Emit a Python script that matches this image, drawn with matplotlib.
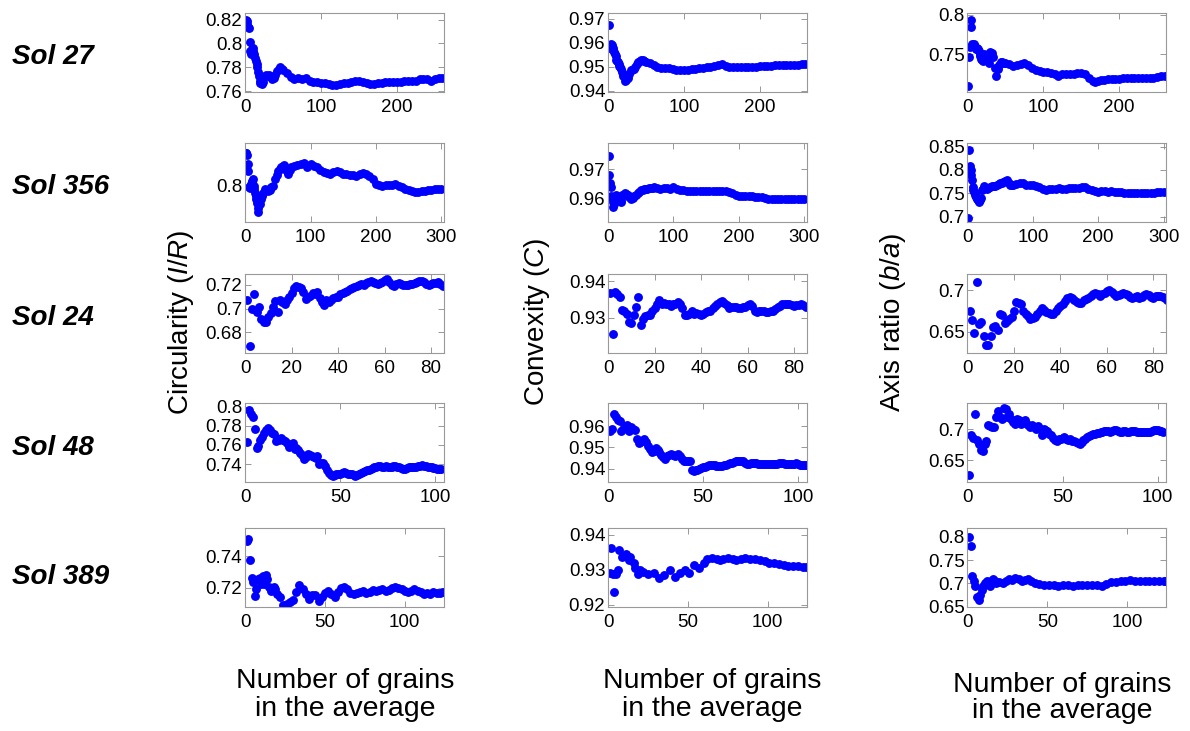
import matplotlib
matplotlib.use("Agg")
import matplotlib.pyplot as plt
from matplotlib.ticker import FormatStrFormatter

plt.rcParams['font.family'] = ['Liberation Sans', 'DejaVu Sans']
plt.rcParams['mathtext.fontset'] = 'custom'
plt.rcParams['mathtext.rm'] = 'Liberation Sans'
plt.rcParams['mathtext.it'] = 'Liberation Sans:italic'

# row / column names
sols = ['Sol 27', 'Sol 356', 'Sol 24', 'Sol 48', 'Sol 389']
ylabels = [r'Circularity ($\it{I/R}$)', r'Convexity ($\it{C}$)', r'Axis ratio ($\it{b/a}$)']

# ---- Sol 27 ----
s27_x = [1, 2, 3, 4, 5, 6, 7, 8, 9, 10, 11, 12, 13, 14, 15, 16, 17, 18, 19, 20, 22, 24, 26, 28, 30,
         32, 34, 36, 38, 40, 42, 44, 46, 48, 50, 55, 60, 65, 70, 75, 80, 85, 90, 95, 100, 105, 110,
         115, 120, 125, 130, 135, 140, 145, 150, 155, 160, 165, 170, 175, 180, 185, 190, 195, 200,
         205, 210, 215, 220, 225, 230, 235, 240, 245, 250, 255, 260]
s27_circ = [0.820, 0.819, 0.816, 0.814, 0.813, 0.801, 0.794, 0.791, 0.795, 0.796, 0.794, 0.791, 0.788,
            0.785, 0.783, 0.780, 0.776, 0.773, 0.769, 0.767, 0.766, 0.768, 0.773, 0.774, 0.773, 0.774,
            0.772, 0.770, 0.771, 0.774, 0.777, 0.779, 0.780, 0.779, 0.778, 0.775, 0.772, 0.770, 0.771,
            0.770, 0.771, 0.769, 0.768, 0.768, 0.767, 0.767, 0.766, 0.765, 0.765, 0.766, 0.767, 0.767,
            0.768, 0.769, 0.769, 0.768, 0.767, 0.766, 0.766, 0.767, 0.767, 0.768, 0.768, 0.768, 0.768,
            0.768, 0.769, 0.769, 0.769, 0.769, 0.770, 0.770, 0.770, 0.769, 0.770, 0.771, 0.771]
s27_conv = [0.9674, 0.958, 0.959, 0.9595, 0.959, 0.958, 0.957, 0.956, 0.9555, 0.9545, 0.953, 0.9525,
            0.952, 0.951, 0.9505, 0.950, 0.949, 0.948, 0.947, 0.946, 0.944, 0.9445, 0.9455, 0.947,
            0.9485, 0.9485, 0.949, 0.950, 0.951, 0.952, 0.9525, 0.953, 0.953, 0.9525, 0.952, 0.9515,
            0.9507, 0.950, 0.9496, 0.9495, 0.9494, 0.949, 0.9487, 0.9485, 0.9485, 0.9487, 0.949, 0.949,
            0.9493, 0.9495, 0.9497, 0.950, 0.9503, 0.9508, 0.951, 0.9505, 0.950, 0.950, 0.950, 0.950,
            0.950, 0.950, 0.950, 0.950, 0.9502, 0.9503, 0.9505, 0.9505, 0.9508, 0.9507, 0.9506, 0.9507,
            0.9508, 0.9506, 0.9508, 0.951, 0.951]
s27_ax_x = [1, 2, 3, 4, 5, 6, 7, 8, 9, 10, 11, 12, 13, 14, 15, 16, 17, 18, 19, 20, 22, 24, 26, 28, 30,
            32, 34, 36, 38, 40, 42, 44, 46, 48, 50, 55, 60, 65, 70, 75, 80, 85, 90, 95, 100, 105, 110,
            115, 120, 125, 130, 135, 140, 145, 150, 155, 160, 165, 168, 172, 176, 180, 185, 190, 195,
            200, 205, 210, 215, 220, 225, 230, 235, 240, 245, 250, 255, 260]
s27_axis = [0.7096, 0.7465, 0.7587, 0.785, 0.793, 0.763, 0.760, 0.763, 0.761, 0.7587, 0.757, 0.7565,
            0.758, 0.756, 0.754, 0.750, 0.747, 0.7435, 0.742, 0.741, 0.750, 0.749, 0.746, 0.739, 0.752,
            0.751, 0.746, 0.7326, 0.722, 0.7304, 0.736, 0.740, 0.740, 0.739, 0.7387, 0.737, 0.7348,
            0.736, 0.737, 0.739, 0.736, 0.7326, 0.730, 0.729, 0.7274, 0.727, 0.726, 0.725, 0.7217,
            0.724, 0.7248, 0.725, 0.725, 0.726, 0.726, 0.724, 0.7196, 0.716, 0.714, 0.716, 0.717,
            0.7174, 0.718, 0.718, 0.718, 0.7187, 0.719, 0.719, 0.7195, 0.7196, 0.719, 0.7195, 0.720,
            0.7196, 0.720, 0.721, 0.722, 0.7222]

# ---- Sol 356 ----
s356_x = [1, 2, 3, 4, 5, 6, 7, 8, 9, 10, 11, 12, 13, 14, 15, 16, 17, 18, 19, 20, 22, 24, 26, 28, 30,
          32, 35, 38, 40, 42, 45, 48, 50, 53, 55, 58, 60, 63, 65, 68, 70, 75, 80, 85, 90, 95, 100,
          105, 110, 115, 120, 125, 130, 135, 140, 145, 150, 155, 160, 165, 170, 175, 180, 185, 190,
          195, 200, 205, 210, 215, 220, 225, 230, 235, 240, 245, 250, 255, 260, 265, 270, 275, 280,
          285, 290, 295, 300]
s356_circ = [0.8144, 0.8147, 0.8136, 0.8098, 0.8068, 0.7993, 0.799, 0.800, 0.801, 0.8016, 0.802, 0.8031,
             0.800, 0.7985, 0.797, 0.7955, 0.794, 0.7925, 0.790, 0.7884, 0.7918, 0.794, 0.7955, 0.797,
             0.7985, 0.798, 0.7978, 0.798, 0.7993, 0.800, 0.8031, 0.805, 0.8068, 0.8075, 0.8083,
             0.8088, 0.8091, 0.807, 0.8053, 0.807, 0.8083, 0.8088, 0.8091, 0.8095, 0.8101, 0.8085,
             0.8095, 0.809, 0.8086, 0.807, 0.8061, 0.8057, 0.8053, 0.806, 0.8068, 0.806, 0.8053,
             0.8052, 0.805, 0.8048, 0.8046, 0.8055, 0.8057, 0.8055, 0.8046, 0.803, 0.8008, 0.8002,
             0.800, 0.8002, 0.8003, 0.8005, 0.8008, 0.800, 0.7993, 0.7987, 0.7981, 0.7977, 0.7973,
             0.7975, 0.7977, 0.7978, 0.7981, 0.7983, 0.7985, 0.7985, 0.7985]
s356_conv = [0.9747, 0.9679, 0.9653, 0.9638, 0.9607, 0.960, 0.9586, 0.9569, 0.958, 0.9598, 0.9605, 0.961,
             0.960, 0.9595, 0.9592, 0.9595, 0.960, 0.9598, 0.959, 0.9586, 0.961, 0.9612, 0.9616,
             0.9613, 0.9612, 0.9605, 0.9598, 0.960, 0.9607, 0.961, 0.9616, 0.962, 0.9627, 0.9628,
             0.963, 0.9632, 0.9633, 0.9634, 0.9635, 0.9636, 0.9637, 0.9635, 0.9633, 0.9636, 0.9635,
             0.9633, 0.9637, 0.963, 0.9627, 0.9627, 0.9626, 0.9625, 0.9625, 0.9625, 0.9624, 0.9624,
             0.9625, 0.9624, 0.9624, 0.9624, 0.9625, 0.9625, 0.9625, 0.962, 0.9616, 0.961, 0.9607,
             0.9607, 0.9606, 0.9606, 0.9607, 0.9605, 0.9603, 0.9602, 0.960, 0.9597, 0.9595, 0.9595,
             0.9595, 0.9595, 0.9595, 0.9596, 0.9596, 0.9597, 0.9597, 0.9597, 0.9596]
s356_axis = [0.6964, 0.793, 0.843, 0.8086, 0.800, 0.789, 0.7786, 0.7643, 0.758, 0.7536, 0.750, 0.7464,
             0.743, 0.7407, 0.738, 0.7357, 0.734, 0.732, 0.736, 0.739, 0.757, 0.760, 0.766, 0.761,
             0.759, 0.762, 0.763, 0.765, 0.766, 0.765, 0.768, 0.770, 0.771, 0.773, 0.775, 0.777,
             0.7786, 0.772, 0.768, 0.767, 0.767, 0.770, 0.7727, 0.771, 0.768, 0.767, 0.768, 0.766,
             0.7643, 0.760, 0.757, 0.759, 0.760, 0.760, 0.761, 0.760, 0.760, 0.761, 0.761, 0.762,
             0.762, 0.763, 0.763, 0.760, 0.757, 0.755, 0.7536, 0.754, 0.754, 0.7535, 0.754, 0.753,
             0.752, 0.752, 0.7514, 0.751, 0.7505, 0.750, 0.750, 0.750, 0.750, 0.750, 0.750, 0.751,
             0.752, 0.753, 0.7536]

# ---- Sol 24 (one point per grain) ----
s24_x = list(range(1, 86))
s24_circ = [0.7074, 0.6683, 0.6996, 0.7122, 0.6968, 0.7018, 0.6912, 0.6884, 0.6892, 0.6934, 0.6962,
            0.7018, 0.7066, 0.6976, 0.7069, 0.7060, 0.7038, 0.7074, 0.7102, 0.7130, 0.7172, 0.7192,
            0.7180, 0.7172, 0.7144, 0.7080, 0.7102, 0.7108, 0.7130, 0.7122, 0.7136, 0.7088, 0.7060,
            0.7032, 0.7074, 0.7060, 0.7074, 0.7088, 0.7097, 0.7102, 0.7122, 0.7130, 0.7144, 0.7150,
            0.7164, 0.7172, 0.7178, 0.7192, 0.7200, 0.7206, 0.7200, 0.7214, 0.7228, 0.7234, 0.7228,
            0.7214, 0.7206, 0.7214, 0.7228, 0.7242, 0.7248, 0.7228, 0.7200, 0.7192, 0.7208, 0.7214,
            0.7206, 0.7200, 0.7200, 0.7200, 0.7206, 0.7208, 0.7214, 0.7222, 0.7234, 0.7236, 0.7220,
            0.7208, 0.7200, 0.7206, 0.7214, 0.7214, 0.7220, 0.7208, 0.7192]
s24_conv = [0.9367, 0.9256, 0.9372, 0.9365, 0.9357, 0.9321, 0.9319, 0.9311, 0.9288, 0.9286, 0.9307,
            0.9330, 0.9356, 0.9281, 0.9298, 0.9305, 0.9309, 0.9307, 0.9319, 0.9328, 0.9337, 0.9348,
            0.9337, 0.9341, 0.9339, 0.9339, 0.9332, 0.9337, 0.9339, 0.9344, 0.9337, 0.9328, 0.9309,
            0.9307, 0.9311, 0.9319, 0.9311, 0.9314, 0.9311, 0.9309, 0.9311, 0.9317, 0.9319, 0.9320,
            0.9328, 0.9332, 0.9339, 0.9344, 0.9346, 0.9342, 0.9335, 0.9328, 0.9330, 0.9331, 0.9330,
            0.9328, 0.9328, 0.9330, 0.9331, 0.9335, 0.9339, 0.9332, 0.9320, 0.9317, 0.9319, 0.9320,
            0.9319, 0.9317, 0.9316, 0.9319, 0.9320, 0.9325, 0.9330, 0.9332, 0.9337, 0.9339, 0.9339,
            0.9337, 0.9334, 0.9332, 0.9335, 0.9335, 0.9337, 0.9335, 0.9330]
s24_ax_x = list(range(1, 87))
s24_axis = [0.6750, 0.6649, 0.6488, 0.7105, 0.6597, 0.6621, 0.6448, 0.6347, 0.6347, 0.6448, 0.6556,
            0.6569, 0.6528, 0.6718, 0.6698, 0.6609, 0.6629, 0.6661, 0.6677, 0.6750, 0.6863, 0.6851,
            0.6831, 0.6750, 0.6718, 0.6690, 0.6657, 0.6669, 0.6677, 0.6710, 0.6750, 0.6790, 0.6758,
            0.6742, 0.6722, 0.6710, 0.6718, 0.6750, 0.6782, 0.6810, 0.6839, 0.6871, 0.6903, 0.6919,
            0.6903, 0.6879, 0.6863, 0.6851, 0.6851, 0.6879, 0.6891, 0.6903, 0.6931, 0.6952, 0.6972,
            0.6960, 0.6931, 0.6952, 0.6972, 0.6992, 0.7000, 0.6984, 0.6960, 0.6931, 0.6944, 0.6960,
            0.6968, 0.6960, 0.6940, 0.6919, 0.6911, 0.6919, 0.6927, 0.6911, 0.6919, 0.6944, 0.6952,
            0.6944, 0.6919, 0.6911, 0.6927, 0.6935, 0.6927, 0.6919, 0.6903, 0.6879]

# ---- Sol 48 ----
s48_x = list(range(1, 104))
s48_circ = [0.7629, 0.7966, 0.7922, 0.7896, 0.7771, 0.7569, 0.7585, 0.7653, 0.7687, 0.7720, 0.7754,
            0.7778, 0.7754, 0.7720, 0.7710, 0.7636, 0.7660, 0.7653, 0.7670, 0.7653, 0.7636, 0.7619,
            0.7575, 0.7602, 0.7619, 0.7558, 0.7569, 0.7545, 0.7518, 0.7494, 0.7451, 0.7474, 0.7501,
            0.7494, 0.7484, 0.7474, 0.7467, 0.7484, 0.7400, 0.7407, 0.7407, 0.7383, 0.7333, 0.7306,
            0.7282, 0.7272, 0.7289, 0.7292, 0.7299, 0.7299, 0.7306, 0.7316, 0.7306, 0.7292, 0.7299,
            0.7292, 0.7282, 0.7272, 0.7282, 0.7292, 0.7306, 0.7316, 0.7326, 0.7333, 0.7339, 0.7350,
            0.7360, 0.7366, 0.7366, 0.7383, 0.7383, 0.7373, 0.7373, 0.7383, 0.7373, 0.7366, 0.7373,
            0.7383, 0.7383, 0.7373, 0.7366, 0.7360, 0.7350, 0.7350, 0.7360, 0.7366, 0.7373, 0.7373,
            0.7366, 0.7373, 0.7376, 0.7383, 0.7390, 0.7383, 0.7376, 0.7373, 0.7366, 0.7366, 0.7360,
            0.7356, 0.7350, 0.7350, 0.7350]
s48_cv_x = list(range(1, 105))
s48_conv = [0.9577, 0.9588, 0.9658, 0.9646, 0.9631, 0.9623, 0.9577, 0.9585, 0.9600, 0.9608, 0.9577,
            0.9595, 0.9588, 0.9582, 0.9538, 0.9523, 0.9526, 0.9531, 0.9538, 0.9526, 0.9508, 0.9492,
            0.9477, 0.9485, 0.9495, 0.9489, 0.9477, 0.9465, 0.9454, 0.9446, 0.9458, 0.9462, 0.9469,
            0.9465, 0.9458, 0.9462, 0.9469, 0.9458, 0.9446, 0.9438, 0.9434, 0.9438, 0.9434, 0.9392,
            0.9388, 0.9392, 0.9392, 0.9400, 0.9403, 0.9408, 0.9408, 0.9412, 0.9415, 0.9415, 0.9418,
            0.9415, 0.9412, 0.9411, 0.9411, 0.9412, 0.9415, 0.9418, 0.9423, 0.9426, 0.9428, 0.9431,
            0.9434, 0.9435, 0.9438, 0.9438, 0.9434, 0.9428, 0.9423, 0.9423, 0.9426, 0.9428, 0.9428,
            0.9426, 0.9423, 0.9422, 0.9420, 0.9420, 0.9420, 0.9420, 0.9422, 0.9422, 0.9423, 0.9423,
            0.9423, 0.9425, 0.9425, 0.9425, 0.9423, 0.9423, 0.9423, 0.9423, 0.9423, 0.9423, 0.9425,
            0.9422, 0.9418, 0.9418, 0.9418, 0.9415]
s48_axis = [0.6258, 0.6903, 0.6860, 0.7242, 0.6823, 0.6769, 0.6661, 0.6651, 0.6769, 0.6806, 0.7065,
            0.7054, 0.7038, 0.7038, 0.7199, 0.7290, 0.7199, 0.7172, 0.7344, 0.7323, 0.7199, 0.7253,
            0.7172, 0.7118, 0.7091, 0.7172, 0.7145, 0.7091, 0.7118, 0.7156, 0.7108, 0.7065, 0.7038,
            0.7075, 0.7038, 0.7011, 0.7054, 0.7000, 0.6914, 0.7011, 0.6984, 0.6968, 0.6930, 0.6903,
            0.6860, 0.6823, 0.6806, 0.6849, 0.6839, 0.6860, 0.6876, 0.6849, 0.6823, 0.6839, 0.6806,
            0.6806, 0.6796, 0.6785, 0.6769, 0.6796, 0.6823, 0.6849, 0.6876, 0.6892, 0.6914, 0.6930,
            0.6930, 0.6941, 0.6946, 0.6957, 0.6957, 0.6968, 0.6978, 0.6968, 0.6957, 0.6978, 0.6984,
            0.6989, 0.6973, 0.6957, 0.6957, 0.6968, 0.6968, 0.6957, 0.6957, 0.6968, 0.6968, 0.6973,
            0.6957, 0.6957, 0.6957, 0.6957, 0.6957, 0.6957, 0.6957, 0.6957, 0.6968, 0.6984, 0.6989,
            0.6984, 0.6973, 0.6968, 0.6957]

# ---- Sol 389 ----
s389_x = [1, 2, 3, 4, 5, 6, 7, 8, 9, 10, 11, 12, 13, 14, 15, 16, 17, 18, 19, 20, 22, 24, 26, 28, 30,
          32, 34, 36, 38, 40, 42, 44, 46, 48, 50, 52, 54, 56, 58, 60, 62, 64, 66, 68, 70, 72, 74, 76,
          78, 80, 82, 84, 86, 88, 90, 92, 94, 96, 98, 100, 102, 104, 106, 108, 110, 112, 114, 116,
          118, 120, 122, 124]
s389_circ = [0.7494, 0.7506, 0.7375, 0.7262, 0.7238, 0.715, 0.7194, 0.7256, 0.7262, 0.7225, 0.7275,
             0.7225, 0.7281, 0.7256, 0.7206, 0.7181, 0.7194, 0.7206, 0.7194, 0.7162, 0.7144, 0.7094,
             0.710, 0.7112, 0.7125, 0.7175, 0.7219, 0.7194, 0.7162, 0.7131, 0.7156, 0.7156, 0.7119,
             0.7144, 0.7169, 0.7181, 0.7162, 0.7144, 0.7175, 0.720, 0.7206, 0.7194, 0.7169, 0.7162,
             0.7169, 0.7175, 0.7181, 0.7169, 0.7175, 0.7188, 0.7181, 0.7188, 0.7194, 0.7181, 0.7188,
             0.720, 0.7206, 0.720, 0.7194, 0.7181, 0.7175, 0.7181, 0.7194, 0.7181, 0.7175, 0.7162,
             0.7169, 0.7162, 0.7175, 0.7169, 0.7169, 0.7175]
s389_cv_x = [1, 2, 3, 4, 5, 6, 7, 9, 11, 12, 13, 14, 16, 17, 19, 20, 22, 25, 29, 32, 35, 39, 42, 45,
             48, 51, 54, 57, 60, 62, 65, 68, 70, 72, 75, 78, 80, 83, 86, 89, 92, 95, 98, 101, 104,
             107, 110, 113, 116, 119, 122, 124]
s389_conv = [0.9290, 0.9363, 0.9287, 0.9237, 0.9287, 0.9300, 0.9358, 0.9338, 0.9346, 0.9340, 0.9327,
             0.9338, 0.9321, 0.9304, 0.9287, 0.9301, 0.9295, 0.9287, 0.9290, 0.9276, 0.9285, 0.9301,
             0.9279, 0.9290, 0.9301, 0.9290, 0.9313, 0.9304, 0.9321, 0.9330, 0.9335, 0.9332, 0.9327,
             0.9330, 0.9335, 0.9330, 0.9327, 0.9330, 0.9335, 0.9330, 0.9332, 0.9327, 0.9325, 0.9321,
             0.9320, 0.9318, 0.9315, 0.9312, 0.9312, 0.9310, 0.9308, 0.9307]
s389_ax_x = [1, 2, 3, 4, 5, 6, 7, 8, 9, 10, 11, 12, 13, 14, 15, 16, 17, 18, 20, 22, 24, 26, 28, 30,
             32, 34, 36, 38, 40, 42, 45, 48, 51, 54, 57, 60, 63, 66, 69, 72, 75, 78, 81, 84, 87, 90,
             93, 96, 99, 102, 105, 108, 111, 114, 117, 120, 123, 124]
s389_axis = [0.80, 0.78, 0.715, 0.705, 0.695, 0.67, 0.665, 0.675, 0.685, 0.695, 0.70, 0.705, 0.70,
             0.695, 0.705, 0.71, 0.705, 0.70, 0.703, 0.70, 0.705, 0.71, 0.708, 0.712, 0.71, 0.705,
             0.708, 0.71, 0.705, 0.70, 0.698, 0.697, 0.696, 0.697, 0.695, 0.696, 0.697, 0.695, 0.696,
             0.697, 0.696, 0.697, 0.696, 0.695, 0.698, 0.702, 0.704, 0.705, 0.706, 0.707, 0.706,
             0.705, 0.706, 0.706, 0.705, 0.706, 0.706, 0.706]

# panel table: (x, y) per row and column
panels = [
    [(s27_x, s27_circ), (s27_x, s27_conv), (s27_ax_x, s27_axis)],
    [(s356_x, s356_circ), (s356_x, s356_conv), (s356_x, s356_axis)],
    [(s24_x, s24_circ), (s24_x, s24_conv), (s24_ax_x, s24_axis)],
    [(s48_x, s48_circ), (s48_cv_x, s48_conv), (s48_x, s48_axis)],
    [(s389_x, s389_circ), (s389_cv_x, s389_conv), (s389_ax_x, s389_axis)],
]
xlims = [(0, 262), (0, 304), (0, 85.5), (0, 104.5), (0, 124.5)]
xticks = [[0, 100, 200], [0, 100, 200, 300], [0, 20, 40, 60, 80], [0, 50, 100], [0, 50, 100]]
ylims = [
    [(0.7594, 0.8253), (0.9394, 0.9724), (0.7015, 0.802)],
    [(0.7839, 0.8189), (0.9516, 0.979), (0.688, 0.857)],
    [(0.6627, 0.729), (0.9203, 0.942), (0.6246, 0.7194)],
    [(0.7215, 0.804), (0.9338, 0.9711), (0.615, 0.743)],
    [(0.708, 0.758), (0.9195, 0.942), (0.65, 0.819)],
]
yticks = [
    [[0.76, 0.78, 0.8, 0.82], [0.94, 0.95, 0.96, 0.97], [0.75, 0.8]],
    [[0.8], [0.96, 0.97], [0.7, 0.75, 0.8, 0.85]],
    [[0.68, 0.7, 0.72], [0.93, 0.94], [0.65, 0.7]],
    [[0.74, 0.76, 0.78, 0.8], [0.94, 0.95, 0.96], [0.65, 0.7]],
    [[0.72, 0.74], [0.92, 0.93, 0.94], [0.65, 0.7, 0.75, 0.8]],
]

fig = plt.figure(figsize=(11.9, 7.31), dpi=100)
lefts = [0.206, 0.511, 0.813]
bottoms = [0.874, 0.696, 0.517, 0.341, 0.170]
w, h = 0.167, 0.108

for r in range(5):
    for c in range(3):
        ax = fig.add_axes([lefts[c], bottoms[r], w, h])
        x, y = panels[r][c]
        ax.plot(x, y, 'o', color='#0000ff', ms=6.4, mew=0)
        ax.set_xlim(xlims[r])
        ax.set_ylim(ylims[r][c])
        ax.set_xticks(xticks[r])
        ax.set_yticks(yticks[r][c])
        ax.yaxis.set_major_formatter(FormatStrFormatter('%g'))
        ax.tick_params(direction='in', top=True, right=True, length=4, width=0.6,
                       color='#888888', labelsize=13.5)
        ax.tick_params(axis='x', pad=5)
        ax.tick_params(axis='y', pad=2)
        for sp in ax.spines.values():
            sp.set_color('#999999')
            sp.set_linewidth(0.8)
    fig.text(0.010, 1 - [57, 187, 318, 448, 577][r] / 731, sols[r], fontsize=20,
             fontweight='bold', fontstyle='italic', va='center', ha='left')

# axis titles
ylab_x = [181, 537, 893]
for c in range(3):
    fig.text(ylab_x[c] / 1190, 1 - 322 / 731, ylabels[c], rotation=90, fontsize=20,
             ha='center', va='center')
xlab_pos = [(345, 695), (712, 695), (1062, 698)]
for c in range(3):
    fig.text(xlab_pos[c][0] / 1190, 1 - xlab_pos[c][1] / 731, 'Number of grains\nin the average',
             fontsize=20.5, ha='center', va='center', linespacing=1.05)

fig.savefig('out.png', dpi=100, facecolor='white')
